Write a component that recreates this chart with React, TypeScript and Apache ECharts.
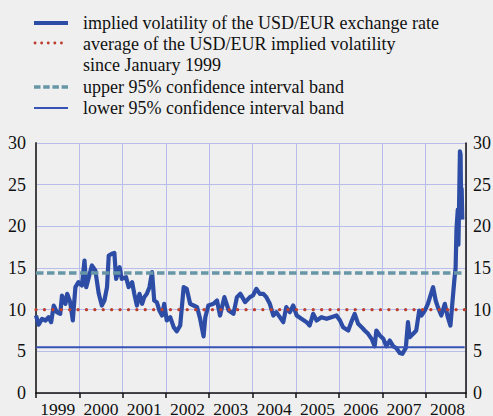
import React, { useEffect, useRef } from "react";
import * as echarts from "echarts";

// Decimal years of the readings and implied volatility (%)
const years = [
  1999.0, 1999.06, 1999.14, 1999.22, 1999.29, 1999.35, 1999.41, 1999.48, 1999.56, 1999.6,
  1999.68, 1999.72, 1999.79, 1999.85, 1999.91, 1999.98, 2000.06, 2000.12, 2000.16, 2000.22,
  2000.29, 2000.37, 2000.45, 2000.52, 2000.58, 2000.64, 2000.68, 2000.75, 2000.81, 2000.85,
  2000.93, 2000.98, 2001.08, 2001.14, 2001.22, 2001.27, 2001.33, 2001.39, 2001.45, 2001.5,
  2001.56, 2001.62, 2001.68, 2001.73, 2001.79, 2001.85, 2001.91, 2001.96, 2002.02, 2002.1,
  2002.18, 2002.25, 2002.33, 2002.41, 2002.48, 2002.56, 2002.64, 2002.72, 2002.79, 2002.87,
  2002.91, 2002.98, 2003.1, 2003.18, 2003.25, 2003.35, 2003.45, 2003.56, 2003.64, 2003.72,
  2003.83, 2003.94, 2004.01, 2004.09, 2004.17, 2004.25, 2004.32, 2004.4, 2004.48, 2004.55,
  2004.63, 2004.71, 2004.78, 2004.86, 2004.94, 2005.02, 2005.13, 2005.25, 2005.32, 2005.4,
  2005.48, 2005.59, 2005.71, 2005.82, 2005.94, 2006.02, 2006.09, 2006.21, 2006.28, 2006.36,
  2006.44, 2006.52, 2006.59, 2006.67, 2006.75, 2006.82, 2006.86, 2006.94, 2007.02, 2007.09,
  2007.17, 2007.25, 2007.32, 2007.4, 2007.46, 2007.54, 2007.59, 2007.63, 2007.71, 2007.78,
  2007.85, 2007.9, 2007.98, 2008.05, 2008.17, 2008.23, 2008.28, 2008.36, 2008.44, 2008.51,
  2008.57, 2008.61, 2008.66, 2008.69, 2008.71, 2008.74, 2008.755, 2008.77, 2008.79, 2008.805,
  2008.82, 2008.83, 2008.845,
];
const vol = [
  9.3, 8.2, 8.9, 8.7, 9.1, 8.5, 10.5, 9.7, 9.5, 11.7,
  10.7, 11.9, 10.9, 8.7, 12.7, 13.3, 12.9, 15.9, 12.7, 13.9,
  15.3, 14.7, 11.9, 10.5, 11.1, 12.7, 16.5, 16.7, 16.8, 13.7,
  15.1, 13.7, 13.9, 12.7, 13.3, 11.9, 10.5, 11.9, 10.7, 11.5,
  11.9, 12.7, 14.5, 11.1, 10.9, 9.9, 9.3, 10.7, 8.7, 9.1,
  7.9, 7.4, 8.1, 12.7, 12.5, 10.7, 10.5, 10.3, 8.9, 6.8,
  9.1, 10.5, 10.7, 11.1, 9.3, 11.5, 9.9, 9.5, 11.5, 11.9,
  10.9, 11.5, 11.7, 12.5, 11.9, 11.9, 11.5, 10.7, 9.3, 9.7,
  9.1, 8.5, 10.3, 9.7, 10.5, 9.3, 8.9, 8.5, 8.1, 9.5,
  8.7, 9.1, 8.9, 9.1, 9.3, 8.7, 7.9, 7.5, 8.5, 9.5,
  8.3, 7.9, 7.5, 7.1, 6.5, 5.6, 7.5, 6.9, 6.5, 5.6,
  6.3, 5.6, 5.4, 4.8, 4.7, 5.4, 8.5, 6.7, 7.1, 7.5,
  9.9, 9.3, 9.9, 10.7, 12.7, 11.1, 10.3, 9.3, 10.7, 9.1,
  8.1, 10.5, 13.5, 15.0, 19.6, 22.0, 17.8, 22.5, 29.0, 28.6,
  22.0, 24.5, 20.8,
];

const avgLevel = 10.0;
const upperBand = 14.4;
const lowerBand = 5.5;
const bandSpan = [1999, 2008.9];

const xMin = 1999;
const xMax = 2008.93;
const yMax = 30;
const yStep = 5;

const legendLabels = [
  "implied volatility of the USD/EUR exchange rate",
  "average of the USD/EUR implied volatility",
  "since January 1999",
  "upper 95% confidence interval band",
  "lower 95% confidence interval band",
];

const MAIN = "#2c4ca6";
const RED = "#bd3f2e";
const TEAL = "#6797a6";
const LOWER = "#3853b6";
const GRID = "#b9bde9";
const FONT = "Times New Roman, Liberation Serif, Tinos, DejaVu Serif, serif";

export default function App() {
  const ref = useRef<HTMLDivElement>(null);
  useEffect(() => {
    const chart = echarts.init(ref.current!, null, { renderer: "svg" });
    const textEl = (text: string, y: number) => ({
      type: "text",
      x: 83,
      y,
      style: {
        text,
        fill: "#111",
        fontFamily: FONT,
        fontSize: 18,
        verticalAlign: "middle",
      },
    });
    chart.setOption({
      animation: false,
      backgroundColor: "#efefef",
      textStyle: { fontFamily: FONT },
      grid: {
        left: 36,
        right: 27,
        top: 143,
        bottom: 23,
        containLabel: false,
        outerBoundsMode: "none",
      },
      xAxis: [
        {
          type: "value",
          min: xMin,
          max: xMax,
          interval: 1,
          position: "bottom",
          axisLine: { show: true, onZero: false, lineStyle: { color: "#111", width: 1.5 } },
          axisTick: { show: true, length: 5, lineStyle: { color: "#111", width: 1.5 } },
          axisLabel: { show: false },
          splitLine: { show: true, lineStyle: { color: GRID, width: 1 } },
        },
        {
          type: "value",
          min: xMin,
          max: xMax,
          interval: 0.5,
          position: "bottom",
          axisLine: { show: false },
          axisTick: { show: false },
          splitLine: { show: false },
          axisLabel: {
            show: true,
            margin: 7,
            color: "#111",
            fontFamily: FONT,
            fontSize: 17.5,
            formatter: (v: number) =>
              Math.abs(v - Math.floor(v) - 0.5) < 0.01 ? String(Math.floor(v)) : "",
          },
        },
      ],
      yAxis: [
        {
          type: "value",
          min: 0,
          max: yMax,
          interval: yStep,
          position: "left",
          axisLine: { show: true, lineStyle: { color: "#444", width: 2 } },
          axisTick: { show: false },
          axisLabel: { margin: 10, color: "#111", fontFamily: FONT, fontSize: 18 },
          splitLine: { show: true, lineStyle: { color: GRID, width: 1 } },
        },
        {
          type: "value",
          min: 0,
          max: yMax,
          interval: yStep,
          position: "right",
          axisLine: { show: true, lineStyle: { color: "#111", width: 1.5 } },
          axisTick: { show: false },
          axisLabel: { margin: 7, color: "#111", fontFamily: FONT, fontSize: 18 },
          splitLine: { show: false },
        },
      ],
      series: [
        {
          type: "line",
          data: years.map((y, i) => [y, vol[i]]),
          showSymbol: false,
          symbol: "none",
          lineStyle: { color: MAIN, width: 4.2, join: "round" },
          z: 3,
        },
        {
          type: "line",
          data: bandSpan.map((x) => [x, lowerBand]),
          showSymbol: false,
          symbol: "none",
          lineStyle: { color: LOWER, width: 2 },
          z: 4,
        },
        {
          type: "line",
          data: bandSpan.map((x) => [x, avgLevel]),
          showSymbol: false,
          symbol: "none",
          lineStyle: { color: RED, width: 3.2, type: [0.1, 8.3], cap: "round" },
          z: 4,
        },
        {
          type: "line",
          data: bandSpan.map((x) => [x, upperBand]),
          showSymbol: false,
          symbol: "none",
          lineStyle: { color: TEAL, width: 3.6, type: [7.5, 3.5] },
          z: 4,
        },
      ],
      graphic: [
        { type: "line", shape: { x1: 34, y1: 23, x2: 68, y2: 23 }, style: { stroke: MAIN, lineWidth: 4 } },
        {
          type: "line",
          shape: { x1: 35, y1: 43, x2: 68, y2: 43 },
          style: { stroke: RED, lineWidth: 2.8, lineDash: [0.1, 6.5], lineCap: "round" },
        },
        {
          type: "line",
          shape: { x1: 34, y1: 87, x2: 68, y2: 87 },
          style: { stroke: TEAL, lineWidth: 3.5, lineDash: [6.5, 2.7] },
        },
        { type: "line", shape: { x1: 34, y1: 108, x2: 68, y2: 108 }, style: { stroke: LOWER, lineWidth: 2 } },
        textEl(legendLabels[0], 23),
        textEl(legendLabels[1], 44),
        textEl(legendLabels[2], 65),
        textEl(legendLabels[3], 87),
        textEl(legendLabels[4], 108),
      ],
    });
    return () => chart.dispose();
  }, []);
  return (
    <div
      ref={ref}
      style={{ position: "absolute", left: 0, top: 0, width: 493, height: 416 }}
    />
  );
}
